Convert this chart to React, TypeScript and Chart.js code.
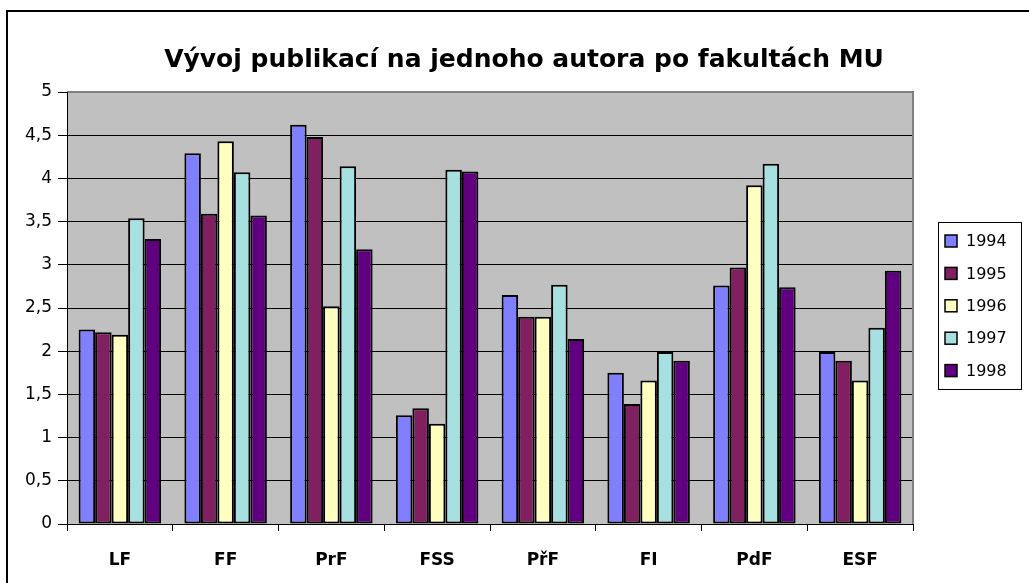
import React, { useEffect, useRef } from "react";
import { Chart, registerables } from "chart.js";

Chart.register(...registerables);

const categories = ["LF", "FF", "PrF", "FSS", "PřF", "FI", "PdF", "ESF"];
const years = ["1994", "1995", "1996", "1997", "1998"];
const v1994 = [2.25, 4.29, 4.62, 1.26, 2.65, 1.75, 2.76, 1.99];
const v1995 = [2.22, 3.59, 4.48, 1.34, 2.4, 1.39, 2.97, 1.89];
const v1996 = [2.19, 4.43, 2.52, 1.16, 2.4, 1.66, 3.92, 1.66];
const v1997 = [3.54, 4.07, 4.14, 4.1, 2.77, 1.99, 4.17, 2.27];
const v1998 = [3.3, 3.57, 3.18, 4.08, 2.14, 1.89, 2.74, 2.93];
const seriesValues = [v1994, v1995, v1996, v1997, v1998];
const seriesColors = ["#8080FF", "#802060", "#FFFFC0", "#A6E0E0", "#600080"];
const titleText = "Vývoj publikací na jednoho autora po fakultách MU";
const yMin = 0;
const yMax = 5;
const yStep = 0.5;

const FONT = '"DejaVu Sans", "Liberation Sans", Arial, sans-serif';

const decor = {
  id: "decor",
  beforeDraw(chart: any) {
    const { ctx, chartArea: a, width, height } = chart;
    ctx.save();
    ctx.fillStyle = "#FFFFFF";
    ctx.fillRect(0, 0, width, height);
    ctx.fillStyle = "#C0C0C0";
    ctx.fillRect(a.left, a.top, a.right - a.left, a.bottom - a.top);
    ctx.restore();
  },
  afterDraw(chart: any) {
    const { ctx, chartArea: a, width, height } = chart;
    ctx.save();
    // plot border
    ctx.strokeStyle = "#808080";
    ctx.lineWidth = 2;
    ctx.beginPath();
    ctx.moveTo(a.left, a.top);
    ctx.lineTo(a.right, a.top);
    ctx.lineTo(a.right, a.bottom);
    ctx.stroke();
    ctx.strokeStyle = "#000000";
    ctx.lineWidth = 1;
    ctx.beginPath();
    ctx.moveTo(a.left + 0.5, a.top);
    ctx.lineTo(a.left + 0.5, a.bottom + 0.5);
    ctx.lineTo(a.right, a.bottom + 0.5);
    ctx.stroke();
    // outer frame
    ctx.lineWidth = 2;
    ctx.beginPath();
    ctx.moveTo(7, height + 5);
    ctx.lineTo(7, 11);
    ctx.lineTo(width + 5, 11);
    ctx.stroke();
    // legend
    const lx = 938.5;
    const ly = 222.5;
    const lw = 83;
    const lh = 167;
    ctx.lineWidth = 1;
    ctx.strokeStyle = "#000000";
    ctx.strokeRect(lx, ly, lw, lh);
    ctx.font = "16px " + FONT;
    ctx.textBaseline = "middle";
    ctx.textAlign = "left";
    chart.data.datasets.forEach((ds: any, i: number) => {
      const cy = ly + 18.5 + i * 32.4;
      ctx.fillStyle = ds.backgroundColor;
      ctx.fillRect(945, cy - 6, 12, 12);
      ctx.strokeStyle = "#000000";
      ctx.lineWidth = 1.5;
      ctx.strokeRect(945, cy - 6, 12, 12);
      ctx.fillStyle = "#000000";
      ctx.fillText(ds.label, 966, cy + 1);
    });
    ctx.restore();
  },
};

export default function App() {
  const ref = useRef<HTMLCanvasElement | null>(null);
  useEffect(() => {
    document.body.style.margin = "0";
    const canvas = ref.current;
    if (!canvas) return;
    const chart = new Chart(canvas, {
      type: "bar",
      data: {
        labels: categories,
        datasets: years.map((y, i) => ({
          label: y,
          data: seriesValues[i],
          backgroundColor: seriesColors[i],
          borderColor: "#000000",
          borderWidth: 2,
          borderSkipped: false,
          categoryPercentage: 0.78,
          barPercentage: 1,
        })),
      },
      options: {
        responsive: false,
        animation: false,
        devicePixelRatio: 1,
        layout: { padding: { left: 19, right: 0, top: 0, bottom: 0 } },
        plugins: {
          legend: { display: false },
          tooltip: { enabled: false },
          title: {
            display: true,
            text: titleText,
            color: "#000000",
            font: { family: FONT, size: 25, weight: "bold", lineHeight: 1.2 },
            padding: { top: 45, bottom: 17 },
          },
        },
        scales: {
          x: {
            afterFit: (s: any) => {
              s.height = 59;
            },
            grid: {
              drawOnChartArea: false,
              drawTicks: true,
              tickLength: 7,
              color: "#000000",
              offset: true,
            },
            border: { display: false },
            ticks: {
              color: "#000000",
              font: { family: FONT, size: 17, weight: "bold" },
              padding: 19,
              maxRotation: 0,
            },
          },
          y: {
            min: yMin,
            max: yMax,
            afterFit: (s: any) => {
              s.width = 48;
            },
            grid: {
              color: "#000000",
              lineWidth: 1,
              tickLength: 9,
              drawTicks: true,
            },
            border: { display: false },
            ticks: {
              stepSize: yStep,
              color: "#000000",
              font: { family: FONT, size: 17 },
              padding: 6,
              callback: (v: any) => String(v).replace(".", ","),
            },
          },
          legendSpace: {
            type: "linear",
            position: "right",
            display: true,
            afterFit: (s: any) => {
              s.width = 116;
            },
            grid: { display: false, drawTicks: false },
            border: { display: false },
            ticks: { display: false },
          },
        },
      },
      plugins: [decor],
    } as any);
    return () => chart.destroy();
  }, []);
  return (
    <div style={{ position: "fixed", left: 0, top: 0, width: 1029, height: 583, background: "#fff" }}>
      <canvas ref={ref} width={1029} height={583} style={{ display: "block", width: 1029, height: 583 }} />
    </div>
  );
}
